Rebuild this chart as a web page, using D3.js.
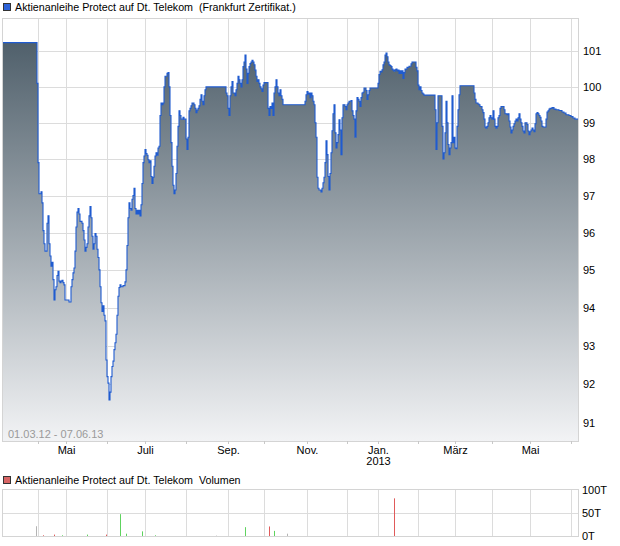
<!DOCTYPE html>
<html>
<head>
<meta charset="utf-8">
<script src="https://cdn.jsdelivr.net/npm/d3@7"></script>
<style>
	body { margin: 0; background: #fff; }
	svg { display: block; font-family: "Liberation Sans", Arial, sans-serif; }
</style>
</head>
<body>
<script>
// sample index along the time axis (one sample per chart column)
const sampleCount = 575;
const title = "Aktienanleihe Protect auf Dt. Telekom";
const exchange = "(Frankfurt Zertifikat.)";
const dateRange = "01.03.12 - 07.06.13";

// [sample, price]; each value holds until the next sample (step line)
const quotes = [
	[0,101.25],[34,100.1],[35,97.9],[36,97.05],[38,97.1],[39,96.8],[40,96.05],[41,95.7],[42,95.5],[44,96.25],[45,96.45],[46,95.7],
	[47,95.37],[48,95.1],[49,95.2],[50,94.74],[51,94.2],[52,94.47],[53,94.55],[54,94.85],[55,94.96],[56,94.7],[57,94.66],[58,94.7],
	[59,94.72],[60,94.66],[61,94.6],[62,94.2],[66,94.15],[68,94.55],[69,94.74],[70,94.92],[71,95.05],[72,95.5],[73,96.15],[74,96.55],
	[75,96.65],[76,96.5],[77,96.3],[79,96.25],[80,96.05],[81,95.8],[82,95.5],[83,95.6],[84,95.7],[85,96.15],[86,96.45],[87,96.7],
	[88,96.4],[89,95.9],[90,95.55],[91,95.7],[92,95.97],[93,95.9],[94,95.55],[95,95.33],[96,95.0],[97,94.55],[98,94.13],[99,93.9],
	[100,94.05],[101,93.8],[102,93.65],[103,92.63],[104,92.2],[105,92.03],[106,91.6],[107,91.8],[108,92.2],[109,92.46],[110,92.6],
	[111,92.9],[112,93.08],[113,93.3],[114,93.8],[115,94.3],[116,94.53],[117,94.6],[118,94.55],[120,94.58],[122,94.68],[123,95.0],
	[124,95.65],[125,96.4],[126,96.8],[127,96.65],[128,96.6],[129,96.9],[130,97.0],[131,97.2],[132,96.65],[133,96.5],[134,96.6],
	[135,96.5],[136,96.6],[137,96.45],[138,96.75],[139,97.33],[140,97.9],[141,98.08],[142,98.26],[143,98.15],[144,98.1],[145,97.98],
	[146,97.9],[147,97.95],[148,97.52],[149,97.33],[150,97.5],[151,97.8],[152,98.08],[153,98.17],[154,98.1],[155,98.3],[156,98.35],
	[157,99.2],[158,99.55],[159,99.5],[160,99.55],[161,100.0],[162,100.3],[164,100.38],[165,100.4],[166,100.0],[167,99.2],[168,98.45],
	[169,97.8],[170,97.28],[171,97.05],[172,97.15],[173,97.6],[174,98.35],[175,98.9],[176,99.33],[177,99.2],[178,99.1],[180,99.15],
	[181,99.1],[183,98.55],[184,98.26],[185,98.6],[186,99.33],[187,99.4],[188,99.47],[189,99.55],[191,99.5],[192,99.4],[193,99.28],
	[194,99.35],[195,99.4],[196,99.47],[197,99.65],[198,99.78],[199,99.6],[200,99.5],[201,99.75],[202,99.92],[203,100.0],
	[223,99.83],[224,99.75],[225,99.4],[226,99.2],[227,99.75],[228,100.0],[229,100.15],[230,99.83],[232,99.75],[233,99.92],[234,100.1],
	[235,100.3],[236,100.2],[237,100.1],[238,100.0],[239,100.2],[240,100.57],[241,100.7],[242,100.9],[243,100.5],[244,100.1],[245,100.38],
	[246,100.57],[247,100.66],[248,100.7],[249,100.75],[250,100.7],[251,100.62],[252,100.47],[253,100.3],[254,100.15],[255,100.2],
	[256,100.1],[257,100.0],[258,99.95],[259,99.87],[260,100.05],[261,100.12],[265,99.4],[266,99.2],[267,99.45],[268,99.4],[269,99.55],
	[270,99.2],[271,99.83],[272,100.0],[273,100.2],[274,100.0],[275,99.83],[276,99.75],[277,99.92],[278,99.75],[279,99.65],[280,99.5],
	[302,99.6],[303,99.78],[304,99.87],[305,99.8],[306,99.83],[307,99.7],[308,99.83],[309,99.75],[310,99.6],[311,99.5],[312,99.0],
	[313,98.6],[314,97.5],[315,97.2],[316,97.15],[318,97.1],[319,97.2],[320,97.35],[321,97.5],[322,97.9],[323,98.5],[324,98.12],
	[325,97.52],[326,97.15],[327,97.6],[328,98.17],[329,98.78],[330,99.25],[331,99.5],[332,98.72],[333,98.3],[334,98.45],[335,98.67],
	[336,99.08],[337,98.8],[338,98.12],[339,99.14],[340,99.5],[342,99.45],[343,99.36],[344,99.5],[345,99.55],[346,99.6],[348,99.62],
	[349,99.33],[350,99.2],[351,99.1],[352,98.6],[353,99.33],[354,99.7],[355,99.65],[356,99.6],[357,99.45],[358,99.7],[359,99.83],
	[360,99.85],[361,99.97],[363,99.9],[364,99.65],[365,99.78],[366,99.9],[367,99.97],
	[375,100.1],[376,100.35],[377,100.44],[378,100.42],[379,100.48],[380,100.62],[381,100.7],[382,100.9],[383,100.95],[384,100.85],
	[385,100.7],[386,100.62],[387,100.6],[388,100.57],[389,100.5],[390,100.47],[391,100.44],[392,100.48],[393,100.5],[394,100.45],
	[395,100.47],[396,100.38],[397,100.45],[398,100.38],[399,100.45],[400,100.24],[401,100.4],[402,100.5],[404,100.55],[406,100.58],
	[408,100.65],[409,100.7],[413,100.55],[414,100.45],[415,100.05],[416,99.92],[417,100.0],[418,99.9],[419,99.83],[420,99.8],[421,99.77],
	[432,99.36],[433,98.26],[434,99.0],[435,99.75],[439,98.9],[440,98.0],[441,98.17],[442,98.72],[443,99.6],[444,99.0],[445,98.4],
	[446,98.12],[447,98.3],[448,98.45],[449,99.75],[450,98.45],[451,98.6],[452,98.3],[453,98.28],[454,98.9],[455,99.36],[456,99.78],
	[457,100.03],
	[471,99.83],[472,99.65],[473,99.55],[475,99.52],[476,99.5],[477,99.45],[479,99.36],[480,99.28],[481,99.1],[482,98.88],[483,98.85],
	[484,98.9],[485,99.0],[486,99.14],[487,99.2],[488,99.14],[489,99.1],[490,99.33],[491,99.1],[492,98.9],[493,98.85],[494,98.9],
	[495,99.14],[496,99.2],[497,99.4],[498,99.45],[501,99.36],[502,99.25],[504,99.22],[505,99.25],[506,99.05],[507,98.88],[508,98.72],
	[509,98.8],[510,98.9],[511,98.97],[512,99.05],[513,99.1],[514,99.05],[515,99.14],[516,99.25],[517,99.1],[518,99.0],[519,98.9],
	[520,98.77],[521,98.72],[522,99.0],[524,98.95],[525,98.77],[526,98.67],[527,98.75],[528,98.8],[529,98.85],[530,98.8],[531,98.75],
	[532,98.97],[533,99.25],[534,99.28],[535,99.25],[536,99.2],[537,99.15],[538,99.05],[539,98.9],[540,98.88],[543,99.1],[544,99.3],
	[545,99.33],[546,99.38],[547,99.4],[549,99.42],[551,99.38],[553,99.36],[556,99.34],[559,99.3],[561,99.27],[563,99.22],[566,99.2],
	[568,99.17],[570,99.13],[572,99.1],[575,99.08]
];

// [sample, volume in thousands, direction]
const volumes = [
	[33,21,"flat"],[40,1.5,"down"],[51,3,"down"],[59,1.5,"up"],[84,3,"up"],[103,3,"down"],[117,47,"up"],[123,5,"up"],
	[139,10,"up"],[152,1.5,"up"],[213,0.8,"flat"],[242,19,"up"],[266,20.5,"down"],[271,11,"up"],[284,5,"flat"],[391,81,"down"]
];

// first sample of every month, Apr 2012 .. Jun 2013
const monthStarts = [35, 63, 104, 142, 183, 225, 261, 304, 344, 375, 415, 452, 489, 527, 568];
const monthLabels = ["", "Mai", "", "Juli", "", "Sep.", "", "Nov.", "", "Jan.", "", "März", "", "Mai", ""];
const yearLabels = {375: "2013"};
const priceTicks = [91, 92, 93, 94, 95, 96, 97, 98, 99, 100, 101];
const priceDomain = [90.55, 101.95];
const volumeTicks = [0, 50, 100];

const width = 620, height = 546;
const plot = {left: 3, right: 578, top: 18, bottom: 441};
const vol = {top: 489.5, bottom: 536};
const gridColor = "#dcdcdc";
const dirColor = {up: "#5ed35e", down: "#e05a5a", flat: "#b4b4b4"};

const x = d3.scaleLinear()
	.domain([0, sampleCount])
	.range([plot.left, plot.right]);

const y = d3.scaleLog()
	.domain(priceDomain)
	.range([plot.bottom, plot.top]);

const yv = d3.scaleLinear()
	.domain([0, 100])
	.range([vol.bottom, vol.top]);

const svg = d3.select("body").append("svg")
	.attr("width", width)
	.attr("height", height)
	.attr("viewBox", [0, 0, width, height]);

const grad = svg.append("defs").append("linearGradient")
	.attr("id", "fillGrad")
	.attr("gradientUnits", "userSpaceOnUse")
	.attr("x1", 0).attr("x2", 0)
	.attr("y1", plot.top).attr("y2", plot.bottom);
grad.append("stop").attr("offset", 0).attr("stop-color", "#465763");
grad.append("stop").attr("offset", 1).attr("stop-color", "#f2f3f5");

// grid of the price panel
const grid = svg.append("g")
		.attr("stroke", gridColor)
		.attr("shape-rendering", "crispEdges");

grid.selectAll("line.h")
	.data(priceTicks)
	.join("line")
		.attr("class", "h")
		.attr("x1", plot.left).attr("x2", plot.right)
		.attr("y1", d => Math.round(y(d)) + 0.5).attr("y2", d => Math.round(y(d)) + 0.5);

grid.selectAll("line.v")
	.data(monthStarts)
	.join("line")
		.attr("class", "v")
		.attr("x1", d => Math.round(x(d)) + 0.5).attr("x2", d => Math.round(x(d)) + 0.5)
		.attr("y1", plot.top).attr("y2", plot.bottom);

const area = d3.area()
	.curve(d3.curveStepAfter)
	.x(d => x(d[0]))
	.y0(plot.bottom)
	.y1(d => y(d[1]));

const line = d3.line()
	.curve(d3.curveStepAfter)
	.x(d => x(d[0]))
	.y(d => y(d[1]));

svg.append("path")
	.datum(quotes)
	.attr("fill", "url(#fillGrad)")
	.attr("d", area);

svg.append("path")
	.datum(quotes)
	.attr("fill", "none")
	.attr("stroke", "#1f5bd0")
	.attr("stroke-width", 1.1)
	.attr("d", line);

svg.append("rect")
	.attr("x", plot.left - 0.5)
	.attr("y", plot.top + 0.5)
	.attr("width", plot.right - plot.left + 0.5)
	.attr("height", plot.bottom - plot.top)
	.attr("fill", "none")
	.attr("stroke", "#d4d4d4")
	.attr("shape-rendering", "crispEdges");

svg.append("text")
	.attr("x", 8)
	.attr("y", 438)
	.attr("font-size", 11)
	.attr("fill", "#9a9a9a")
	.text(dateRange);

// price axis on the right
svg.append("g")
	.attr("transform", `translate(${plot.right},0)`)
	.call(d3.axisRight(y).tickValues(priceTicks).tickFormat(d3.format("d")).tickSize(0).tickPadding(5))
	.call(g => g.select(".domain").remove())
	.call(g => g.selectAll("text").attr("font-size", 11).attr("fill", "#000").attr("font-family", null));

// month axis
svg.append("g")
	.attr("transform", `translate(0,${plot.bottom})`)
	.call(d3.axisBottom(x).tickValues(monthStarts).tickFormat((d, i) => monthLabels[i]).tickSize(3).tickPadding(2))
	.call(g => g.select(".domain").remove())
	.call(g => g.selectAll("line").attr("stroke", "#c8c8c8"))
	.call(g => g.selectAll("text").attr("font-size", 11).attr("fill", "#000").attr("font-family", null))
	.call(g => g.selectAll(".tick").filter(d => yearLabels[d]).append("text")
		.attr("y", 16)
		.attr("dy", "0.71em")
		.attr("font-size", 11)
		.attr("fill", "#000")
		.text(d => yearLabels[d]));

// legend of the price panel
svg.append("rect")
	.attr("x", 3.5).attr("y", 3.5)
	.attr("width", 7).attr("height", 7)
	.attr("fill", "#2d62d8")
	.attr("stroke", "#333");

svg.append("text")
	.attr("x", 15)
	.attr("y", 11)
	.attr("font-size", 10.7)
	.attr("fill", "#000")
	.attr("xml:space", "preserve")
	.text(`${title}  ${exchange}`);

// volume panel
const vgrid = svg.append("g")
		.attr("stroke", gridColor)
		.attr("shape-rendering", "crispEdges");

vgrid.selectAll("line.v")
	.data(monthStarts)
	.join("line")
		.attr("x1", d => Math.round(x(d)) + 0.5).attr("x2", d => Math.round(x(d)) + 0.5)
		.attr("y1", vol.top).attr("y2", vol.bottom);

vgrid.append("line")
	.attr("x1", plot.left).attr("x2", plot.right)
	.attr("y1", Math.round(yv(50)) + 0.5).attr("y2", Math.round(yv(50)) + 0.5);

svg.append("rect")
	.attr("x", plot.left - 0.5)
	.attr("y", vol.top)
	.attr("width", plot.right - plot.left + 0.5)
	.attr("height", vol.bottom - vol.top)
	.attr("fill", "none")
	.attr("stroke", "#d4d4d4")
	.attr("shape-rendering", "crispEdges");

svg.append("g")
	.selectAll("rect")
	.data(volumes)
	.join("rect")
		.attr("x", d => Math.round(x(d[0])))
		.attr("y", d => yv(d[1]))
		.attr("width", 1)
		.attr("height", d => yv(0) - yv(d[1]))
		.attr("fill", d => dirColor[d[2]]);

svg.append("g")
	.attr("transform", `translate(${plot.right},0)`)
	.call(d3.axisRight(yv).tickValues(volumeTicks).tickFormat(d => d + "T").tickSize(0).tickPadding(4))
	.call(g => g.select(".domain").remove())
	.call(g => g.selectAll("text").attr("font-size", 11).attr("fill", "#000").attr("font-family", null));

svg.append("rect")
	.attr("x", 3.5).attr("y", 476.5)
	.attr("width", 7).attr("height", 7)
	.attr("fill", "#d86565")
	.attr("stroke", "#333");

svg.append("text")
	.attr("x", 15)
	.attr("y", 484)
	.attr("font-size", 10.7)
	.attr("fill", "#000")
	.attr("xml:space", "preserve")
	.text(`${title}  Volumen`);
</script>
</body>
</html>
